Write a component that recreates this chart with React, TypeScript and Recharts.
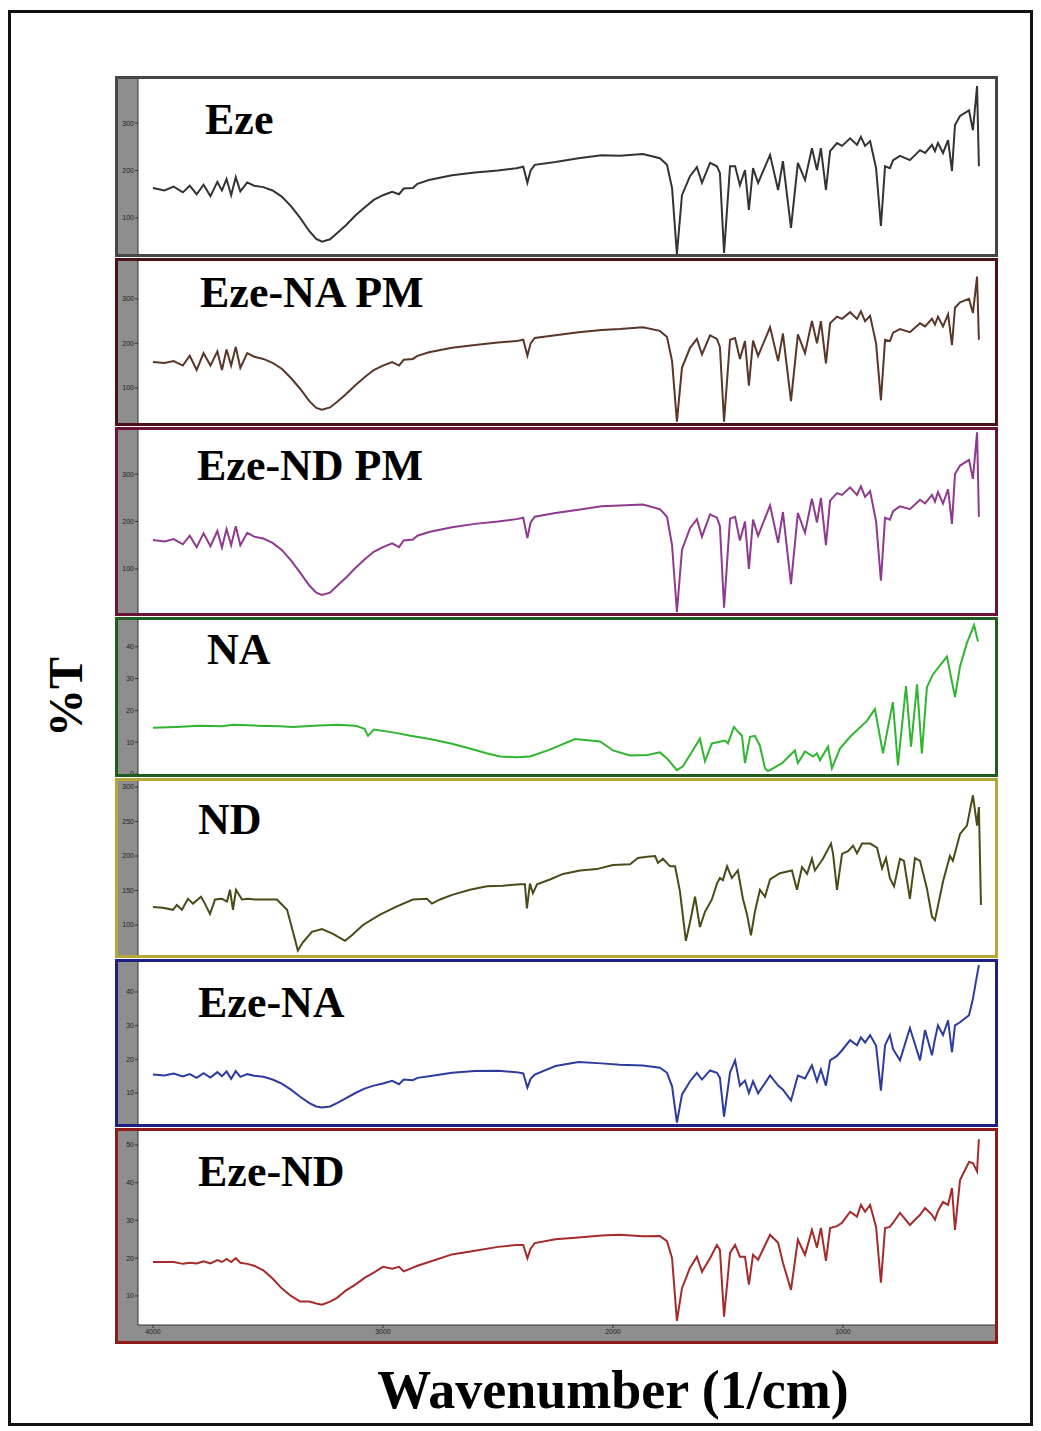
import React from 'react';
import { LineChart, Line, XAxis, YAxis } from 'recharts';

// wavenumbers shared by the eze based spectra (1/cm)
const ezeWn = [
  4000, 3950, 3910, 3870, 3840, 3810, 3780, 3750, 3720, 3700,
  3680, 3660, 3640, 3620, 3590, 3560, 3520, 3480, 3440, 3400,
  3360, 3320, 3290, 3265, 3230, 3200, 3160, 3120, 3080, 3040,
  3000, 2960, 2930, 2910, 2870, 2850, 2800, 2700, 2600, 2500,
  2420, 2390, 2372, 2358, 2340, 2250, 2150, 2050, 1970, 1870,
  1796, 1765, 1743, 1722, 1700, 1665, 1635, 1613, 1578, 1548,
  1535, 1517, 1491, 1469, 1448, 1426, 1409, 1391, 1369, 1317,
  1282, 1261, 1226, 1196, 1165, 1135, 1113, 1096, 1074, 1056,
  1026, 1004, 969, 939, 922, 904, 882, 856, 835, 817,
  796, 782, 752, 709, 665, 643, 613, 600, 587, 565,
  543, 526, 513, 491, 452, 435, 417, 409,
];

const ezeT = [
  163, 158, 166, 154, 168, 150, 170, 146, 176, 158,
  182, 148, 186, 156, 175, 168, 165, 158, 145, 125,
  100, 72, 56, 50, 55, 68, 85, 105, 122, 138,
  148, 155, 150, 162, 163, 172, 180, 190, 196, 200,
  205, 208, 174, 200, 212, 218, 226, 232, 231, 235,
  226, 212, 163, 24, 148, 188, 207, 174, 216, 209,
  195, 26, 209, 209, 169, 201, 117, 205, 174, 233,
  159, 220, 79, 216, 180, 247, 201, 247, 159, 241,
  258, 252, 268, 254, 271, 252, 262, 205, 83, 209,
  205, 222, 231, 222, 243, 237, 254, 241, 258, 237,
  264, 199, 296, 315, 327, 285, 378, 209,
];

const ezeNaPmT = [
  158, 156, 160, 150, 172, 140, 178, 150, 182, 140,
  186, 150, 192, 145, 178, 170, 165, 156, 143, 122,
  98, 70, 55, 51, 56, 68, 86, 106, 124, 140,
  150, 158, 150, 163, 165, 172, 180, 190, 196, 202,
  205, 208, 172, 200, 212, 218, 225, 230, 232, 236,
  228, 214, 160, 24, 145, 190, 210, 175, 218, 210,
  192, 24, 208, 212, 165, 205, 105, 206, 172, 236,
  160, 222, 70, 220, 178, 250, 200, 250, 155, 245,
  260, 255, 270, 255, 272, 250, 262, 200, 72, 208,
  205, 224, 232, 225, 245, 238, 255, 242, 260, 238,
  265, 196, 280, 292, 300, 268, 350, 208,
];

const ezeNdPmT = [
  161, 158, 163, 152, 170, 146, 175, 148, 180, 145,
  184, 150, 190, 150, 176, 168, 164, 155, 140, 118,
  92, 65, 50, 45, 50, 64, 82, 102, 120, 136,
  146, 154, 146, 160, 162, 170, 178, 188, 195, 200,
  205, 208, 165, 198, 210, 218, 225, 232, 234, 236,
  226, 210, 150, 9, 140, 186, 205, 168, 215, 208,
  190, 18, 206, 210, 160, 200, 100, 204, 170, 234,
  155, 220, 68, 218, 176, 248, 198, 250, 150, 244,
  260, 256, 272, 256, 274, 252, 264, 200, 75, 208,
  204, 222, 232, 226, 246, 238, 256, 242, 262, 238,
  268, 195, 300, 318, 330, 290, 388, 210,
];

const ezeNaT = [
  15.5, 15.2, 15.8, 14.9, 15.6, 14.5, 15.9, 14.6, 16.2, 15.0,
  16.4, 14.2, 16.5, 14.8, 15.6, 15.1, 14.8, 14.0, 12.8, 11.0,
  8.9, 7.0, 6.0, 5.7, 6.0, 7.0, 8.5, 10.0, 11.3, 12.2,
  12.8, 13.6, 12.6, 14.0, 13.8, 14.5, 15.0, 16.0, 16.5, 16.6,
  16.2, 15.8, 11.6, 14.2, 15.5, 18.0, 19.2, 18.8, 18.4, 18.2,
  17.5, 16.0, 12.0, 1.2, 9.5, 13.5, 16.0, 14.0, 16.7, 16.0,
  14.5, 3.0, 16.1, 19.7, 12.2, 13.7, 10.0, 13.5, 9.9, 15.2,
  12.2, 11.0, 7.8, 15.2, 14.3, 18.2, 13.5, 17.0, 12.2, 19.7,
  21.0, 22.7, 25.7, 24.2, 26.5, 25.0, 27.2, 24.0, 10.7, 24.2,
  27.2, 23.0, 19.7, 29.3, 19.7, 28.7, 21.2, 26.0, 30.1, 27.2,
  31.6, 22.1, 30.1, 31.0, 33.1, 38.0, 45.0, 48.0,
];

const ezeNdT = [
  19.0, 19.0, 19.0, 18.5, 18.8, 18.6, 19.2, 18.6, 19.5, 19.0,
  19.8, 19.0, 20.0, 18.8, 18.5, 18.0, 16.8, 14.6, 12.0, 10.0,
  8.5, 8.5, 8.0, 7.7, 8.5, 9.5, 11.5, 13.0, 14.8, 16.2,
  17.7, 17.2, 17.7, 16.5, 17.5, 18.0, 19.0, 21.0, 22.0, 23.0,
  23.5, 23.5, 20.0, 22.5, 24.0, 25.0, 25.5, 26.0, 26.2, 25.8,
  25.9, 24.5, 20.0, 3.4, 12.0, 17.5, 20.4, 16.4, 20.0, 23.5,
  22.2, 4.5, 21.4, 23.5, 20.4, 20.4, 13.0, 20.9, 19.6, 26.2,
  24.1, 18.8, 11.6, 24.9, 20.9, 27.5, 22.8, 28.0, 19.3, 28.0,
  28.5, 29.4, 32.3, 31.0, 34.1, 32.3, 34.1, 28.3, 13.5, 28.0,
  28.3, 29.4, 32.0, 28.8, 31.5, 33.3, 31.5, 30.2, 32.5, 34.9,
  34.1, 38.6, 27.5, 40.7, 45.5, 45.2, 43.0, 51.5,
];

const naWn = [
  4000, 3900, 3800, 3700, 3652, 3550, 3450, 3391, 3300, 3200,
  3120, 3080, 3065, 3040, 2950, 2880, 2796, 2700, 2622, 2550,
  2491, 2420, 2361, 2280, 2165, 2100, 2056, 2000, 1926, 1850,
  1796, 1765, 1722, 1696, 1656, 1622, 1600, 1570, 1513, 1500,
  1474, 1457, 1439, 1426, 1404, 1383, 1361, 1339, 1326, 1304,
  1265, 1209, 1196, 1165, 1130, 1113, 1100, 1065, 1048, 1013,
  969, 896, 861, 826, 783, 761, 726, 704, 678, 657,
  635, 609, 548, 513, 491, 461, 430, 413,
];

const naT = [
  14.5, 14.8, 15.2, 15.0, 15.5, 15.2, 15.0, 14.8, 15.2, 15.5,
  15.2, 14.2, 12.0, 14.0, 13.0, 12.0, 11.0, 9.5, 8.0, 6.5,
  5.5, 5.3, 5.5, 7.5, 11.0, 10.5, 10.2, 7.4, 5.8, 6.0,
  6.8, 4.9, 1.2, 2.4, 7.1, 11.1, 4.0, 9.6, 10.5, 9.6,
  14.8, 13.3, 12.0, 3.4, 11.7, 12.0, 8.9, 1.8, 0.9, 1.8,
  3.4, 7.4, 3.4, 7.1, 5.5, 6.5, 4.3, 8.6, 1.8, 8.0,
  11.7, 16.7, 20.4, 6.5, 22.6, 2.7, 27.6, 8.6, 28.2, 6.5,
  27.3, 31.3, 36.9, 24.2, 33.8, 41.2, 46.8, 41.6,
];

const ndWn = [
  4000, 3957, 3913, 3896, 3874, 3848, 3826, 3791, 3774, 3752,
  3730, 3700, 3678, 3665, 3652, 3639, 3613, 3587, 3557, 3522,
  3461, 3417, 3391, 3370, 3348, 3309, 3265, 3217, 3165, 3135,
  3087, 3013, 2939, 2870, 2809, 2787, 2752, 2696, 2622, 2548,
  2478, 2404, 2383, 2374, 2361, 2348, 2330, 2274, 2217, 2143,
  2070, 2000, 1926, 1891, 1852, 1817, 1804, 1783, 1752, 1730,
  1709, 1683, 1665, 1643, 1622, 1600, 1570, 1548, 1535, 1522,
  1504, 1483, 1457, 1435, 1417, 1400, 1383, 1361, 1339, 1317,
  1274, 1222, 1200, 1178, 1156, 1135, 1122, 1087, 1052, 1043,
  1026, 1004, 978, 956, 939, 917, 882, 852, 830, 813,
  796, 778, 752, 735, 709, 687, 665, 635, 613, 600,
  565, 535, 522, 491, 461, 435, 417, 409, 400,
];

const ndT = [
  126, 125, 122, 129, 122, 138, 131, 141, 131, 116,
  137, 138, 134, 151, 122, 151, 137, 138, 137, 137,
  137, 122, 90, 63, 75, 90, 94, 87, 77, 85,
  100, 115, 127, 137, 138, 131, 137, 144, 151, 156,
  157, 159, 159, 124, 160, 146, 159, 166, 174, 179,
  181, 187, 188, 197, 199, 200, 190, 196, 185, 185,
  149, 77, 104, 141, 97, 119, 137, 160, 168, 165,
  185, 168, 179, 138, 115, 85, 119, 151, 141, 166,
  175, 179, 151, 184, 174, 196, 179, 196, 218, 203,
  151, 203, 207, 215, 204, 218, 218, 212, 182, 197,
  168, 156, 196, 193, 138, 197, 193, 153, 112, 107,
  163, 200, 193, 232, 244, 288, 244, 271, 129,
];

const xTicks = [4000, 3000, 2000, 1000];

const toRows = (wn: number[], t: number[]) => wn.map((w, i) => ({ wn: w, t: t[i] }));

type PanelCfg = {
  name: string;
  top: number;
  bottom: number;
  border: string;
  stroke: string;
  domain: [number, number];
  ticks: number[];
  data: { wn: number; t: number }[];
  labelX: number;
  labelBase: number;
  showX?: boolean;
};

const panels: PanelCfg[] = [
  { name: 'Eze', top: 76, bottom: 257, border: '#464646', stroke: '#333333', domain: [24, 393], ticks: [100, 200, 300], data: toRows(ezeWn, ezeT), labelX: 205, labelBase: 135 },
  { name: 'Eze-NA PM', top: 258, bottom: 426, border: '#4a1116', stroke: '#5a3628', domain: [21, 385], ticks: [100, 200, 300], data: toRows(ezeWn, ezeNaPmT), labelX: 200, labelBase: 308 },
  { name: 'Eze-ND PM', top: 427, bottom: 616, border: '#6a1238', stroke: '#8e3a8e', domain: [7, 393], ticks: [100, 200, 300], data: toRows(ezeWn, ezeNdPmT), labelX: 197, labelBase: 481 },
  { name: 'NA', top: 617, bottom: 777, border: '#1f5c1f', stroke: '#2fb52f', domain: [0, 48.4], ticks: [0, 10, 20, 30, 40], data: toRows(naWn, naT), labelX: 207, labelBase: 665 },
  { name: 'ND', top: 778, bottom: 958, border: '#b5a73a', stroke: '#4b4a18', domain: [56.5, 308.7], ticks: [100, 150, 200, 250, 300], data: toRows(ndWn, ndT), labelX: 198, labelBase: 835 },
  { name: 'Eze-NA', top: 959, bottom: 1127, border: '#1c2080', stroke: '#2c3c9e', domain: [0.8, 48.9], ticks: [10, 20, 30, 40], data: toRows(ezeWn, ezeNaT), labelX: 198, labelBase: 1018 },
  { name: 'Eze-ND', top: 1128, bottom: 1344, border: '#8e1a1a', stroke: '#a52b2b', domain: [2.3, 53.7], ticks: [10, 20, 30, 40, 50], data: toRows(ezeWn, ezeNdT), labelX: 198, labelBase: 1187, showX: true },
];

const serif = '"Liberation Serif", "Times New Roman", serif';

const Panel = ({ p }: { p: PanelCfg }) => {
  const innerH = p.bottom - p.top - 6;
  const axisH = p.showX ? 16 : 0;
  return (
    <div
      style={{
        position: 'absolute',
        left: 107,
        top: p.top - 8,
        width: 883,
        height: p.bottom - p.top,
        border: `3px solid ${p.border}`,
        boxSizing: 'border-box',
        background: '#8e8e8e',
      }}
    >
      <div style={{ position: 'absolute', left: 20, top: 0, right: 0, bottom: axisH, background: '#fff' }} />
      <div style={{ position: 'absolute', left: 0, top: 0 }}>
        <LineChart width={877} height={innerH} data={p.data} margin={{ top: 0, right: 0, bottom: 0, left: 0 }}>
          <XAxis
            dataKey="wn"
            type="number"
            domain={[339, 4065]}
            reversed
            allowDataOverflow
            hide={!p.showX}
            height={axisH}
            ticks={xTicks}
            interval={0}
            tickSize={3}
            tickMargin={1}
            tick={{ fontSize: 7, fill: '#222', fontFamily: 'Arial, sans-serif' }}
            axisLine={{ stroke: '#333' }}
            tickLine={{ stroke: '#333' }}
          />
          <YAxis
            type="number"
            domain={p.domain}
            allowDataOverflow
            width={20}
            ticks={p.ticks}
            interval={0}
            tickSize={3}
            tickMargin={1}
            tick={{ fontSize: 7, fill: '#222', fontFamily: 'Arial, sans-serif' }}
            axisLine={{ stroke: '#333' }}
            tickLine={{ stroke: '#333' }}
          />
          <Line
            type="linear"
            dataKey="t"
            stroke={p.stroke}
            strokeWidth={2}
            dot={false}
            isAnimationActive={false}
          />
        </LineChart>
      </div>
    </div>
  );
};

const App = () => {
  return (
    <div style={{ position: 'relative', width: 1025, height: 1423, background: '#fff', fontFamily: serif }}>
      <div
        style={{
          position: 'absolute',
          left: 0,
          top: 2,
          width: 1025,
          height: 1416,
          border: '3px solid #111',
          boxSizing: 'border-box',
        }}
      />
      {panels.map((p) => (
        <Panel key={p.name} p={p} />
      ))}
      {panels.map((p) => (
        <div
          key={p.name + '-label'}
          style={{
            position: 'absolute',
            left: p.labelX - 8,
            top: p.labelBase - 37 - 8,
            fontSize: 44,
            lineHeight: '44px',
            fontWeight: 'bold',
            color: '#000',
            whiteSpace: 'nowrap',
            fontFamily: serif,
          }}
        >
          {p.name}
        </div>
      ))}
      <div
        style={{
          position: 'absolute',
          left: 66 - 8 - 60,
          top: 697 - 8 - 25,
          width: 120,
          height: 50,
          lineHeight: '50px',
          textAlign: 'center',
          transform: 'rotate(-90deg)',
          fontSize: 48,
          fontWeight: 'bold',
          fontFamily: serif,
        }}
      >
        %T
      </div>
      <div
        style={{
          position: 'absolute',
          left: 613 - 8 - 300,
          top: 1408 - 8 - 45,
          width: 600,
          textAlign: 'center',
          fontSize: 54,
          lineHeight: '54px',
          fontWeight: 'bold',
          fontFamily: serif,
          whiteSpace: 'nowrap',
        }}
      >
        Wavenumber (1/cm)
      </div>
    </div>
  );
};

export default App;
